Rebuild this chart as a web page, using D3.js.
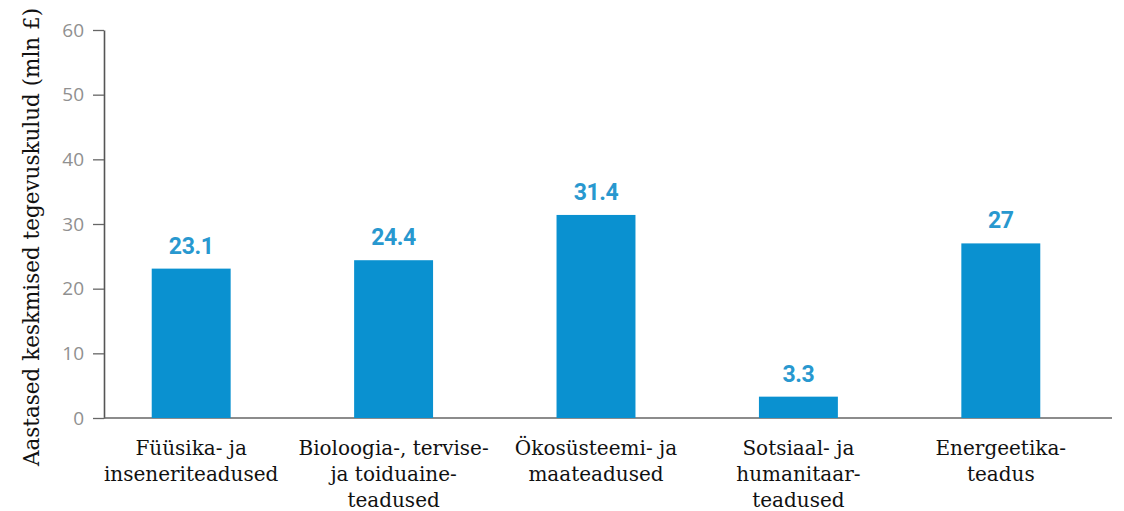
<!DOCTYPE html>
<html>
<head>
<meta charset="utf-8">
<script src="https://cdn.jsdelivr.net/npm/d3@7"></script>
<style>
  body { margin: 0; background: #fff; }
  svg { display: block; }
</style>
</head>
<body>
<div id="chart"></div>
<script>
// data
const categories = [
  ['Füüsika- ja', 'inseneriteadused'],
  ['Bioloogia-, tervise-', 'ja toiduaine-', 'teadused'],
  ['Ökosüsteemi- ja', 'maateadused'],
  ['Sotsiaal- ja', 'humanitaar-', 'teadused'],
  ['Energeetika-', 'teadus']
];
const values = [23.1, 24.4, 31.4, 3.3, 27];
const valueLabels = ['23.1', '24.4', '31.4', '3.3', '27'];
const yTicks = [0, 10, 20, 30, 40, 50, 60];
const yTitle = 'Aastased keskmised tegevuskulud (mln £)';

const width = 1124;
const height = 511;

const svg = d3.select('#chart')
  .append('svg')
  .attr('width', width)
  .attr('height', height);

const keys = categories.map((d, i) => i);

// scales
const x = d3.scaleBand()
  .domain(keys)
  .range([91, 1101])
  .paddingInner(0.61)
  .paddingOuter(0.3);

const y = d3.scaleLinear()
  .domain([0, 60])
  .range([418, 30]);

// y axis
const yAxis = svg.append('g')
  .attr('transform', 'translate(104,0)')
  .call(d3.axisLeft(y).tickValues(yTicks).tickSize(11).tickPadding(9).tickSizeOuter(0));
yAxis.select('.domain').attr('stroke', '#555').attr('stroke-width', 1.6);
yAxis.selectAll('.tick line').attr('stroke', '#666').attr('stroke-width', 1.3);
yAxis.selectAll('.tick text')
  .style('fill', '#909090')
  .style('font-family', '"Open Sans", sans-serif')
  .style('font-size', '19px');

// x axis baseline
svg.append('line')
  .attr('x1', 104).attr('x2', 1112)
  .attr('y1', y(0)).attr('y2', y(0))
  .attr('stroke', '#666')
  .attr('stroke-width', 1.6);

// bars
svg.selectAll('.bar')
  .data(values)
  .enter().append('rect')
  .attr('class', 'bar')
  .attr('x', (d, i) => x(i))
  .attr('width', x.bandwidth())
  .attr('y', (d) => y(d))
  .attr('height', (d) => y(0) - y(d))
  .attr('fill', '#0a91d0');

// value labels
svg.selectAll('.val')
  .data(values)
  .enter().append('text')
  .attr('class', 'val')
  .attr('x', (d, i) => x(i) + x.bandwidth() / 2)
  .attr('y', (d) => y(d) - 15)
  .attr('text-anchor', 'middle')
  .attr('font-family', 'Roboto, sans-serif')
  .attr('font-weight', 'bold')
  .attr('font-size', 23)
  .attr('letter-spacing', -0.4)
  .attr('fill', '#2898cf')
  .text((d, i) => valueLabels[i]);

// category labels
const cat = svg.selectAll('.cat')
  .data(categories)
  .enter().append('text')
  .attr('class', 'cat')
  .attr('text-anchor', 'middle')
  .attr('font-family', '"DejaVu Serif", serif')
  .attr('font-size', 20)
  .attr('fill', '#111');
cat.selectAll('tspan')
  .data((d, i) => d.map((line) => ({ line: line, i: i })))
  .enter().append('tspan')
  .attr('x', (d) => x(d.i) + x.bandwidth() / 2)
  .attr('y', (d, j) => 455 + j * 26)
  .text((d) => d.line);

// y title
svg.append('text')
  .attr('transform', 'translate(39,' + 237 + ') rotate(-90)')
  .attr('text-anchor', 'middle')
  .attr('font-family', '"DejaVu Serif", serif')
  .attr('font-size', 21.5)
  .attr('fill', '#111')
  .text(yTitle);
</script>
</body>
</html>
